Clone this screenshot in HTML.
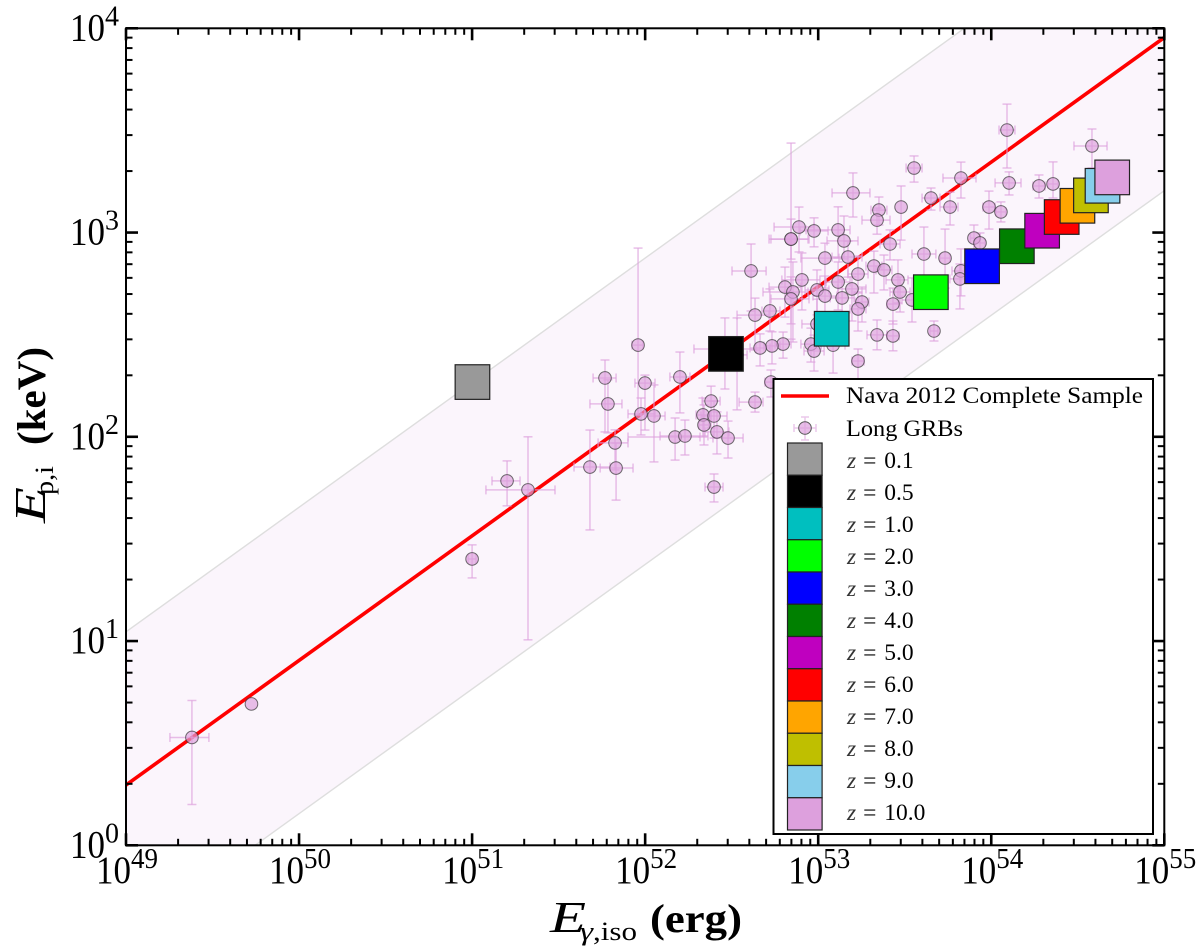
<!DOCTYPE html>
<html lang="en">
<head>
<meta charset="utf-8">
<title>Ep,i vs Eγ,iso</title>
<style>
html,body{margin:0;padding:0;background:#fff;width:1200px;height:951px;overflow:hidden}
svg{display:block}
text{font-family:"Liberation Serif","DejaVu Serif",serif;fill:#000}
</style>
</head>
<body>
<svg id="chart" xmlns="http://www.w3.org/2000/svg" width="1200" height="951" viewBox="0 0 1200 951">
<defs><clipPath id="plot-clip"><rect x="126" y="28.3" width="1038.3" height="817"/></clipPath></defs>
<g id="band-layer" clip-path="url(#plot-clip)"></g>
<g id="line-layer" clip-path="url(#plot-clip)"></g>
<g id="point-layer" clip-path="url(#plot-clip)"></g>
<g id="square-layer" clip-path="url(#plot-clip)"></g>
<g id="axis-layer"></g>
<g>
<text transform="translate(45,523) rotate(-90)" font-size="44" font-style="italic" textLength="36" lengthAdjust="spacingAndGlyphs">E</text>
<text transform="translate(53,495) rotate(-90)" font-size="26" textLength="29" lengthAdjust="spacingAndGlyphs">p,i</text>
<text transform="translate(45,445) rotate(-90)" font-size="40" font-weight="bold" textLength="98" lengthAdjust="spacingAndGlyphs">(keV)</text>
</g>
<g>
<text x="550" y="932" font-size="44" font-style="italic" textLength="36" lengthAdjust="spacingAndGlyphs">E</text>
<text x="580" y="940" font-size="26" font-style="italic" textLength="13" lengthAdjust="spacingAndGlyphs">γ</text>
<text x="593" y="940" font-size="26" textLength="44" lengthAdjust="spacingAndGlyphs">,iso</text>
<text x="650" y="932" font-size="40" font-weight="bold" textLength="92" lengthAdjust="spacingAndGlyphs">(erg)</text>
</g>
<g id="legend">
<rect x="773.5" y="379" width="379.5" height="455" fill="#fff" stroke="#000" stroke-width="2"/>
<line x1="781" y1="396" x2="829" y2="396" stroke="#f00" stroke-width="3.5"/>
<text x="846" y="403" font-size="23" textLength="297" lengthAdjust="spacingAndGlyphs">Nava 2012 Complete Sample</text>
<g stroke="#ebc8eb" stroke-width="1.5" fill="none">
<line x1="794" y1="428" x2="816" y2="428"/><line x1="805" y1="417" x2="805" y2="440"/>
<line x1="794" y1="424" x2="794" y2="432"/><line x1="816" y1="424" x2="816" y2="432"/>
<line x1="801" y1="417" x2="809" y2="417"/><line x1="801" y1="440" x2="809" y2="440"/>
<circle cx="805" cy="428" r="6.3" fill="#dda0dd" fill-opacity="0.7" stroke="#555" stroke-width="1"/>
</g>
<text x="846" y="436" font-size="23" textLength="117" lengthAdjust="spacingAndGlyphs">Long GRBs</text>
<g id="legend-rows"></g>
</g>
</svg>
<script>
// Chart data (log10 of E_iso in erg, log10 of E_p,i in keV, dex errors)
const logEiso = [49.381,49.725,51.000,51.202,51.323,51.681,51.832,51.826,51.785,51.768,51.959,51.999,51.976,52.051,52.201,52.173,52.230,52.398,52.381,52.334,52.398,52.340,52.415,52.479,52.612,52.843,52.843,52.889,52.976,53.115,53.149,53.201,53.039,53.172,53.351,53.340,53.479,53.415,53.322,53.380,53.230,53.115,53.195,52.906,52.808,52.854,52.993,53.461,53.473,53.611,53.733,53.652,53.554,53.762,54.091,54.582,53.825,54.103,54.276,54.357,53.987,54.056,53.900,53.935,53.825,53.819,53.669,53.542,52.721,52.635,52.843,53.039,53.138,53.253,53.230,52.993,52.958,52.976,53.086,52.797,52.733,52.664,53.230,53.340,52.727,52.635,53.432,53.432,52.461,52.531];
const logEpi = [0.528,0.692,1.402,1.784,1.740,1.852,1.847,1.970,2.161,2.288,2.449,2.263,2.112,2.102,2.293,1.999,2.004,1.754,2.175,2.107,2.102,2.058,2.024,1.994,2.812,2.968,2.968,3.027,3.008,3.013,2.959,3.194,2.875,2.880,3.110,3.061,3.125,2.944,2.836,2.817,2.797,2.758,2.724,2.768,2.733,2.709,2.719,2.768,2.709,2.895,2.875,3.169,3.316,3.125,3.502,3.424,3.267,3.243,3.228,3.238,3.125,3.101,2.973,2.949,2.812,2.773,2.518,2.670,2.616,2.596,2.675,2.689,2.680,2.660,2.626,2.552,2.454,2.420,2.449,2.454,2.445,2.435,2.371,2.499,2.268,2.170,2.650,2.494,2.430,2.401];
const errELow = [.127,0,.023,.087,.243,.092,.092,.098,.104,.069,.035,.058,.075,.052,.058,.272,.144,.052,.052,.040,.075,.029,.069,.087,.110,.127,.116,.144,.081,.185,.098,.121,.139,.092,.046,.087,0,.058,.046,.046,.058,.069,.081,.116,.092,.173,.069,.069,.058,.069,.029,.052,.046,.058,.046,.104,.104,.081,.035,.029,.035,.029,.020,.029,.052,.058,.023,.058,.046,.104,.116,.069,.069,.040,.046,.087,.058,.058,.069,.046,.046,.058,.035,.058,.035,.092,.035,.035,.179,.058];
const errEHigh = [.098,0,.023,.075,.156,.116,.098,.075,.081,.064,.029,.058,.081,.064,.058,.144,.133,.052,.052,.040,.075,.029,.069,.087,.087,.098,.104,.087,.081,.069,.081,.098,.081,.081,.046,.075,0,.058,.046,.046,.058,.069,.081,.104,.092,.087,.069,.058,.058,.069,.029,.052,.046,.046,.046,.087,.087,.069,.035,.029,.035,.029,.035,.029,.035,.058,.023,.058,.058,.081,.104,.069,.069,.040,.046,.087,.058,.058,.069,.046,.046,.058,.035,.058,.035,.046,.035,.035,.179,.058];
const errPUp = [.181,0,.069,.098,.260,.181,.122,.064,.118,.088,.475,.039,.078,.152,.122,.093,.078,.064,.073,.083,.073,.098,.098,.083,.132,.470,.098,.098,.064,.113,.122,.098,.073,.078,.064,.059,.103,.069,.073,.073,.088,.098,.059,.132,.098,.147,.098,.098,.073,.132,.142,.049,.059,.073,.127,.083,.078,.054,.054,.108,.078,.049,.064,.049,.108,.073,.049,.108,.108,.083,.108,.098,.088,.073,.078,.122,.078,.078,.088,.059,.069,.069,.059,.073,.059,.049,.078,.073,.152,.181];
const errPDown = [.328,0,.093,.122,.734,.308,.157,.132,.142,.264,.343,.230,.103,.225,.176,.113,.093,.073,.132,.108,.108,.098,.108,.098,.196,.490,.098,.122,.078,.137,.088,.118,.147,.098,.073,.069,.162,.078,.132,.098,.088,.137,.157,.147,.147,.245,.122,.113,.098,.132,.147,.059,.069,.088,.186,.108,.098,.059,.059,.069,.108,.049,.069,.049,.122,.147,.049,.108,.098,.171,.122,.108,.108,.098,.108,.122,.088,.098,.137,.069,.088,.088,.098,.073,.073,.049,.098,.073,.196,.269];
const redshiftLabels = ["0.1","0.5","1.0","2.0","3.0","4.0","5.0","6.0","7.0","8.0","9.0","10.0"];
const redshiftLogE = [51.002,52.467,53.078,53.651,53.947,54.148,54.294,54.407,54.498,54.576,54.643,54.699];
const redshiftLogP = [2.268,2.406,2.529,2.708,2.835,2.933,3.009,3.076,3.131,3.182,3.229,3.270];
const redshiftColors = ["#999999","#000000","#00bfbf","#00ff00","#0000ff","#008000","#bf00bf","#ff0000","#ffa500","#bfbf00","#87ceeb","#dda0dd"];
const fitSlope = [0.61];
const fitIntercept = [-29.595];
const fitScatter = [0.75];
const xTickExponents = ["49","50","51","52","53","54","55"];
const yTickExponents = ["0","1","2","3","4"];

const NS = 'http://www.w3.org/2000/svg';
const xMin = 49, xMax = 55, yMin = 0, yMax = 4;
const plotL = 126, plotR = 1164.3, plotB = 845.3, plotT = 28.3;
function xScale(v){ return plotL + (v - xMin) / (xMax - xMin) * (plotR - plotL); }
function yScale(v){ return plotB - (v - yMin) / (yMax - yMin) * (plotB - plotT); }
function make(tag, parent, attrs){
  const el = document.createElementNS(NS, tag);
  for (const k in attrs) el.setAttribute(k, attrs[k]);
  parent.appendChild(el);
  return el;
}
function fit(v, off){ return fitSlope[0] * v + fitIntercept[0] + off; }

// Scatter band
const bandLayer = document.getElementById('band-layer');
const s = fitScatter[0];
const bandFill = make('polygon', bandLayer, {
  points: [[xMin, s],[xMax, s],[xMax, -s],[xMin, -s]].map(p => xScale(p[0]) + ',' + yScale(fit(p[0], p[1]))).join(' '),
  fill: '#fbf5fc', stroke: 'none'
});


[s, -s].forEach(function(off){
  const edge = make('line', bandLayer, {
    x1: xScale(xMin), y1: yScale(fit(xMin, off)), x2: xScale(xMax), y2: yScale(fit(xMax, off)),
    stroke: '#dedede', 'stroke-width': 1.4
  });
  
  
});

// Fit line
const fitLine = make('line', document.getElementById('line-layer'), {
  x1: xScale(xMin), y1: yScale(fit(xMin, 0)), x2: xScale(xMax), y2: yScale(fit(xMax, 0)),
  stroke: '#f00', 'stroke-width': 3.6
});



// GRB points
const pointLayer = document.getElementById('point-layer');
const barColor = '#dda0dd';
logEiso.forEach(function(lx, i){
  const ly = logEpi[i];
  const g = make('g', pointLayer, {stroke: barColor, 'stroke-opacity': 0.68, 'stroke-width': 1.5, fill: 'none'});
  
  
  const cx = xScale(lx), cy = yScale(ly);
  if (errELow[i] > 0 || errEHigh[i] > 0) {
    const xa = xScale(lx - errELow[i]), xb = xScale(lx + errEHigh[i]);
    make('line', g, {x1: xa, y1: cy, x2: xb, y2: cy});
    make('line', g, {x1: xa, y1: cy - 4.5, x2: xa, y2: cy + 4.5});
    make('line', g, {x1: xb, y1: cy - 4.5, x2: xb, y2: cy + 4.5});
  }
  if (errPUp[i] > 0 || errPDown[i] > 0) {
    const ya = yScale(ly + errPUp[i]), yb = yScale(ly - errPDown[i]);
    make('line', g, {x1: cx, y1: ya, x2: cx, y2: yb});
    make('line', g, {x1: cx - 4.5, y1: ya, x2: cx + 4.5, y2: ya});
    make('line', g, {x1: cx - 4.5, y1: yb, x2: cx + 4.5, y2: yb});
  }
});
logEiso.forEach(function(lx, i){
  const dot = make('circle', pointLayer, {
    cx: xScale(lx), cy: yScale(logEpi[i]), r: 6.3,
    fill: '#dda0dd', 'fill-opacity': 0.68, stroke: '#333', 'stroke-opacity': 0.7, 'stroke-width': 1
  });
  
  
});

// Redshift squares and legend rows
const squareLayer = document.getElementById('square-layer');
const legendRows = document.getElementById('legend-rows');
const squareSize = 34.6;
redshiftLabels.forEach(function(label, i){
  const sq = make('rect', squareLayer, {
    x: xScale(redshiftLogE[i]) - squareSize / 2, y: yScale(redshiftLogP[i]) - squareSize / 2,
    width: squareSize, height: squareSize, fill: redshiftColors[i], stroke: '#222', 'stroke-width': 1.2
  });
  
  
  const swatch = make('rect', legendRows, {
    x: 787.5, y: 443 + i * 32.25, width: 34.6, height: 32.25, fill: redshiftColors[i], stroke: '#222', 'stroke-width': 1.2
  });
  
  
  const t = make('text', legendRows, {x: 847, y: 468 + i * 32, 'font-size': 23.5, 'word-spacing': 2});
  
  
  const zs = make('tspan', t, {'font-style': 'italic', 'fill': '#333'});
  zs.textContent = 'z';
  const rest = make('tspan', t, {dx: 7});
  rest.textContent = '= ' + label;
});

// Axes
const axisLayer = document.getElementById('axis-layer');
const frame = make('rect', axisLayer, {x: plotL, y: plotT, width: plotR - plotL, height: plotB - plotT, fill: 'none', stroke: '#000', 'stroke-width': 2});


function tick(x1, y1, x2, y2, w){
  const tk = make('line', axisLayer, {x1: x1, y1: y1, x2: x2, y2: y2, stroke: '#000', 'stroke-width': w});
  
  
}
for (let d = xMin; d <= xMax; d++) {
  const X = xScale(d);
  tick(X, plotB, X, plotB - 12, 2.6);
  tick(X, plotT, X, plotT + 12, 2.6);
  if (d < xMax) for (let m = 2; m < 10; m++) {
    const Xm = xScale(d + Math.log10(m));
    tick(Xm, plotB, Xm, plotB - 6.5, 2);
    tick(Xm, plotT, Xm, plotT + 6.5, 2);
  }
}
for (let d = yMin; d <= yMax; d++) {
  const Y = yScale(d);
  tick(plotL, Y, plotL + 12, Y, 2.6);
  tick(plotR, Y, plotR - 12, Y, 2.6);
  if (d < yMax) for (let m = 2; m < 10; m++) {
    const Ym = yScale(d + Math.log10(m));
    tick(plotL, Ym, plotL + 6.5, Ym, 2);
    tick(plotR, Ym, plotR - 6.5, Ym, 2);
  }
}
xTickExponents.forEach(function(e){
  const X = xScale(Number(e));
  const base = make('text', axisLayer, {x: X - 30, y: 883, 'font-size': 39, textLength: 35, lengthAdjust: 'spacingAndGlyphs'});
  
  
  base.textContent = '10';
  const sup = make('text', axisLayer, {x: X + 5, y: 868, 'font-size': 28, textLength: 27, lengthAdjust: 'spacingAndGlyphs'});
  
  
  sup.textContent = e;
});
yTickExponents.forEach(function(e){
  const Y = yScale(Number(e));
  const base = make('text', axisLayer, {x: 70, y: Y + 12, 'font-size': 39, textLength: 35, lengthAdjust: 'spacingAndGlyphs'});
  
  
  base.textContent = '10';
  const sup = make('text', axisLayer, {x: 105, y: Y - 3, 'font-size': 28});
  
  
  sup.textContent = e;
});
</script>
</body>
</html>
